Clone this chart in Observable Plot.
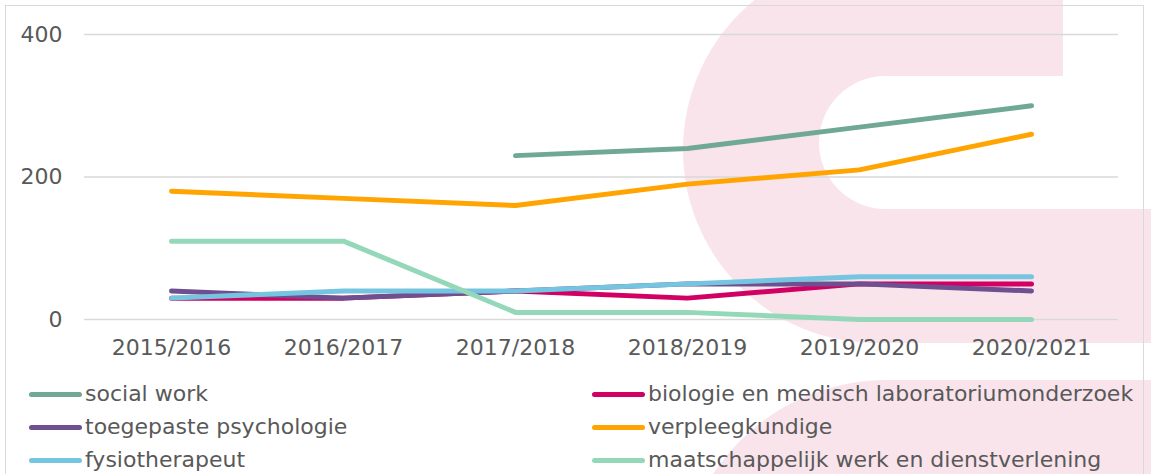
<!DOCTYPE html>
<html>
<head>
<meta charset="utf-8">
<script src="https://cdn.jsdelivr.net/npm/d3@7"></script>
<script src="https://cdn.jsdelivr.net/npm/@observablehq/plot@0.6"></script>
<style>
  html, body { margin: 0; padding: 0; background: #ffffff; }
  #wrap { position: relative; width: 1151px; height: 474px; overflow: hidden; font-family: "DejaVu Sans", Verdana, sans-serif; }
  #bg { position: absolute; left: 0; top: 0; }
  #chart { position: absolute; left: 0; top: 0; }
  #frame { position: absolute; left: 5px; top: 5px; width: 1139px; height: 500px; border: 1.5px solid #d9d9d9; box-sizing: border-box; pointer-events: none; }
  .leg { position: absolute; display: flex; align-items: center; font-size: 22px; color: #595959; white-space: nowrap; line-height: 1; }
  .sw { display: inline-block; width: 53px; height: 5px; border-radius: 3px; margin-right: 3px; }
</style>
</head>
<body>
<div id="wrap">
  <svg id="bg" width="1151" height="474">
    <g fill="#f9e4ec">
      <circle cx="876" cy="150" r="193"></circle>
      <rect x="876" y="0" width="187" height="77"></rect>
      <rect x="876" y="208" width="275" height="135"></rect>
      <circle cx="887" cy="588" r="208"></circle>
      <rect x="887" y="380" width="264" height="94"></rect>
    </g>
    <g fill="#ffffff">
      <circle cx="885.5" cy="142.5" r="66.5"></circle>
      <rect x="885.5" y="76" width="266" height="133"></rect>
    </g>
  </svg>
  <div id="chart"></div>
  <div id="frame"></div>
  <div id="legend"></div>
</div>
<script>
const years = ["2015/2016", "2016/2017", "2017/2018", "2018/2019", "2019/2020", "2020/2021"];
const seriesNames = [
  "social work",
  "biologie en medisch laboratoriumonderzoek",
  "toegepaste psychologie",
  "verpleegkundige",
  "fysiotherapeut",
  "maatschappelijk werk en dienstverlening"
];
const socialWork = [null, null, 230, 240, 270, 300];
const biologie = [30, 30, 40, 30, 50, 50];
const psychologie = [40, 30, 40, 50, 50, 40];
const verpleegkundige = [180, 170, 160, 190, 210, 260];
const fysiotherapeut = [30, 40, 40, 50, 60, 60];
const maatschappelijk = [110, 110, 10, 10, 0, 0];
const seriesColors = ["#6fa893", "#d10062", "#6e4f90", "#ffa400", "#76c5e0", "#95d8b9"];
const yTicks = [0, 200, 400];

const seriesValues = [socialWork, biologie, psychologie, verpleegkundige, fysiotherapeut, maatschappelijk];
const data = [];
seriesNames.forEach((name, i) => {
  years.forEach((yr, j) => {
    const v = seriesValues[i][j];
    if (v !== null) data.push({series: name, year: yr, value: v});
  });
});

const chart = Plot.plot({
  width: 1151,
  height: 364,
  marginLeft: 84,
  marginRight: 33,
  marginTop: 34,
  marginBottom: 45,
  style: {fontFamily: "DejaVu Sans, Verdana, sans-serif", fontSize: "22px", color: "#595959", background: "transparent", overflow: "visible"},
  x: {type: "point", domain: years, padding: 0.5, label: null},
  y: {domain: [0, 400], label: null},
  color: {domain: seriesNames, range: seriesColors},
  marks: [
    Plot.ruleY(yTicks, {stroke: "#d9d9d9", strokeWidth: 1.5, strokeOpacity: 1}),
    Plot.axisX({tickSize: 0, tickPadding: 20, fontSize: 22, fill: "#595959"}),
    Plot.axisY({ticks: yTicks, tickSize: 0, tickPadding: 22, fontSize: 22, fill: "#595959"}),
    Plot.line(data, {x: "year", y: "value", z: "series", stroke: "series", strokeWidth: 5, strokeLinecap: "round", strokeLinejoin: "round", curve: "linear"})
  ]
});
document.getElementById("chart").appendChild(chart);

const legend = document.getElementById("legend");
const legendRows = [394, 427, 460];
seriesNames.forEach((name, i) => {
  const col = i % 2, row = Math.floor(i / 2);
  const div = document.createElement("div");
  div.className = "leg";
  div.style.left = (col === 0 ? 29 : 592) + "px";
  div.style.top = (legendRows[row] - 11) + "px";
  div.style.height = "22px";
  const sw = document.createElement("span");
  sw.className = "sw";
  sw.style.background = seriesColors[i];
  div.appendChild(sw);
  div.appendChild(document.createTextNode(name));
  legend.appendChild(div);
});
</script>
</body>
</html>
